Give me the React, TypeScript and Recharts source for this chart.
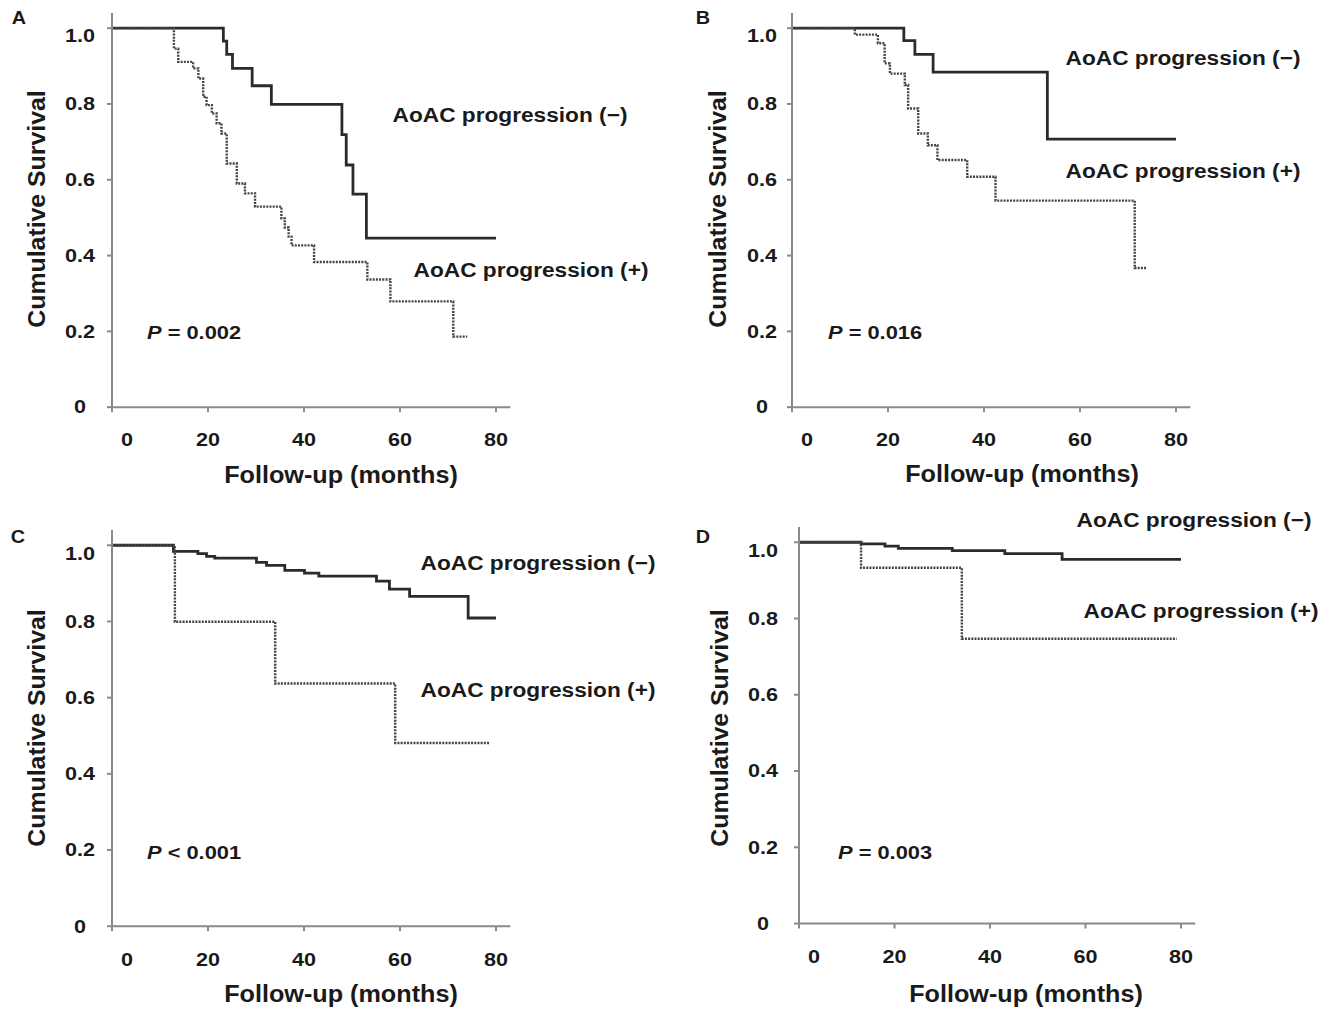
import { LineChart, Line, XAxis, YAxis } from "recharts";

type Pt = { t: number; s: number };

const monthTicks = [0, 20, 40, 60, 80];
const survivalTicks = [0, 0.2, 0.4, 0.6, 0.8, 1.0];

// panel A
const aNeg: Pt[] = [
  { t: 0, s: 1 }, { t: 23.2, s: 0.966 }, { t: 23.9, s: 0.931 }, { t: 25.1, s: 0.894 },
  { t: 29.2, s: 0.848 }, { t: 33.2, s: 0.799 }, { t: 47.9, s: 0.719 }, { t: 48.8, s: 0.639 },
  { t: 50.2, s: 0.562 }, { t: 53.0, s: 0.446 }, { t: 80, s: 0.446 },
];
const aPos: Pt[] = [
  { t: 0, s: 1 }, { t: 12.9, s: 0.946 }, { t: 13.8, s: 0.911 }, { t: 16.9, s: 0.894 },
  { t: 18.0, s: 0.867 }, { t: 19.0, s: 0.819 }, { t: 19.7, s: 0.797 }, { t: 20.8, s: 0.775 },
  { t: 21.8, s: 0.749 }, { t: 22.8, s: 0.722 }, { t: 23.9, s: 0.643 }, { t: 26.0, s: 0.59 },
  { t: 27.7, s: 0.564 }, { t: 29.8, s: 0.529 }, { t: 35.3, s: 0.498 }, { t: 36.0, s: 0.474 },
  { t: 36.8, s: 0.45 }, { t: 37.4, s: 0.427 }, { t: 42.1, s: 0.383 }, { t: 53.2, s: 0.337 },
  { t: 58.0, s: 0.279 }, { t: 71.1, s: 0.186 }, { t: 74.0, s: 0.186 },
];

// panel B
const bNeg: Pt[] = [
  { t: 0, s: 1 }, { t: 23.3, s: 0.967 }, { t: 25.6, s: 0.931 }, { t: 29.4, s: 0.884 },
  { t: 53.2, s: 0.707 }, { t: 80, s: 0.707 },
];
const bPos: Pt[] = [
  { t: 0, s: 1 }, { t: 13.1, s: 0.983 }, { t: 17.9, s: 0.96 }, { t: 19.3, s: 0.907 },
  { t: 20.4, s: 0.88 }, { t: 23.5, s: 0.85 }, { t: 24.2, s: 0.788 }, { t: 26.3, s: 0.722 },
  { t: 28.3, s: 0.691 }, { t: 30.3, s: 0.652 }, { t: 36.5, s: 0.608 }, { t: 42.4, s: 0.545 },
  { t: 71.4, s: 0.367 }, { t: 73.8, s: 0.367 },
];

// panel C
const cNeg: Pt[] = [
  { t: 0, s: 1 }, { t: 12.8, s: 0.984 }, { t: 17.9, s: 0.978 }, { t: 19.7, s: 0.971 },
  { t: 21.4, s: 0.966 }, { t: 30.1, s: 0.955 }, { t: 32.2, s: 0.947 }, { t: 36.0, s: 0.934 },
  { t: 40.1, s: 0.927 }, { t: 43.1, s: 0.919 }, { t: 55.1, s: 0.906 }, { t: 57.8, s: 0.885 },
  { t: 62.0, s: 0.866 }, { t: 74.2, s: 0.809 }, { t: 80, s: 0.809 },
];
const cPos: Pt[] = [
  { t: 0, s: 1 }, { t: 13.1, s: 0.799 }, { t: 34.0, s: 0.637 }, { t: 59.0, s: 0.481 },
  { t: 78.8, s: 0.481 },
];

// panel D
const dNeg: Pt[] = [
  { t: 0, s: 1 }, { t: 13.0, s: 0.996 }, { t: 18.0, s: 0.99 }, { t: 20.8, s: 0.984 },
  { t: 32.1, s: 0.978 }, { t: 43.1, s: 0.97 }, { t: 55.1, s: 0.955 }, { t: 80, s: 0.955 },
];
const dPos: Pt[] = [
  { t: 0, s: 1 }, { t: 13.0, s: 0.933 }, { t: 34.1, s: 0.747 }, { t: 79.1, s: 0.747 },
];

const panelLetters = ["A", "B", "C", "D"];
const pTexts = ["= 0.002", "= 0.016", "< 0.001", "= 0.003"];
const negLabel = "AoAC progression (\u2212)";
const posLabel = "AoAC progression (+)";
const xTitle = "Follow-up (months)";
const yTitle = "Cumulative Survival";

const X_MAX = 83;
const Y_MAX = 1.04;
const FONT = "'Liberation Sans', Arial, sans-serif";
const INK = "#1a1a1a";
const AXIS = "#8a8a8a";

const ML = 110;
const MT = 4;
const MR = 4;
const MB = 60;

type Geo = { x0: number; y0: number; pxMonth: number; pxUnit: number; labelDx: number };

const geos: Geo[] = [
  { x0: 112, y0: 407, pxMonth: 4.8, pxUnit: 379, labelDx: 32 },
  { x0: 792.3, y0: 407, pxMonth: 4.8, pxUnit: 379, labelDx: 30 },
  { x0: 112.3, y0: 926.7, pxMonth: 4.8, pxUnit: 381, labelDx: 32 },
  { x0: 799, y0: 924, pxMonth: 4.775, pxUnit: 381.3, labelDx: 36 },
];
const curves: [Pt[], Pt[]][] = [
  [aNeg, aPos],
  [bNeg, bPos],
  [cNeg, cPos],
  [dNeg, dPos],
];

function SText({ x, y, size, sx = 1, rotate = 0, anchor = "middle", children }: any) {
  return (
    <text
      transform={`translate(${x} ${y}) rotate(${rotate}) scale(${sx} 1)`}
      fontSize={size}
      textAnchor={anchor}
      dominantBaseline="central"
      fontFamily={FONT}
      fontWeight="bold"
      fill={INK}
    >
      {children}
    </text>
  );
}

function Panel({ g, neg, pos }: { g: Geo; neg: Pt[]; pos: Pt[] }) {
  const plotW = X_MAX * g.pxMonth;
  const plotH = Y_MAX * g.pxUnit;
  const bottom = MT + plotH;
  return (
    <div style={{ position: "absolute", left: g.x0 - ML, top: g.y0 - plotH - MT }}>
      <LineChart
        width={ML + plotW + MR}
        height={MT + plotH + MB}
        margin={{ top: MT, right: MR, bottom: 0, left: 0 }}
      >
        <XAxis
          type="number"
          dataKey="t"
          domain={[0, X_MAX]}
          ticks={monthTicks}
          height={MB}
          allowDataOverflow
          stroke={AXIS}
          strokeWidth={2}
          tickSize={5}
          tick={(p: any) => (
            <SText x={p.x + (p.payload.value === 0 ? 15 : 0)} y={bottom + 33} size={18} sx={1.2}>
              {p.payload.value}
            </SText>
          )}
        />
        <YAxis
          type="number"
          dataKey="s"
          domain={[0, Y_MAX]}
          ticks={survivalTicks}
          width={ML}
          allowDataOverflow
          stroke={AXIS}
          strokeWidth={2}
          tickSize={5}
          tick={(p: any) => (
            <SText x={ML - g.labelDx} y={p.y + (p.payload.value === 1 ? 8 : 0)} size={18} sx={1.2}>
              {p.payload.value === 0 ? "0" : Number(p.payload.value).toFixed(1)}
            </SText>
          )}
        />
        <Line
          data={neg}
          dataKey="s"
          type="stepAfter"
          stroke="#2b2b2b"
          strokeWidth={2.8}
          dot={false}
          isAnimationActive={false}
        />
        <Line
          data={pos}
          dataKey="s"
          type="stepAfter"
          stroke="#444"
          strokeWidth={2.4}
          strokeDasharray="2 1.2"
          dot={false}
          isAnimationActive={false}
        />
      </LineChart>
    </div>
  );
}

// page positions of the free text, per panel
const letterPos = [[19, 18], [703, 18], [18, 537], [703, 537]];
const yTitlePos = [[37, 209], [718, 209], [37, 728], [720, 728]];
const xTitlePos = [[341, 475], [1022, 474], [341, 994], [1026, 994]];
const negPos = [[510, 115], [1183, 58], [538, 563], [1194, 520]];
const posPos = [[531, 270], [1183, 171], [538, 690], [1201, 611]];
const pPos = [[147, 332], [828, 332], [147, 852], [838, 852]];

export default function App() {
  return (
    <div style={{ position: "absolute", left: 0, top: 0, width: 1331, height: 1009, background: "#fff" }}>
      {geos.map((g, i) => (
        <Panel key={i} g={g} neg={curves[i][0]} pos={curves[i][1]} />
      ))}
      <svg
        width={1331}
        height={1009}
        style={{ position: "absolute", left: 0, top: 0, pointerEvents: "none" }}
      >
        {panelLetters.map((l, i) => (
          <g key={l}>
            <SText x={letterPos[i][0]} y={letterPos[i][1]} size={18} sx={1.1}>{l}</SText>
            <SText x={yTitlePos[i][0]} y={yTitlePos[i][1]} size={23} sx={1.08} rotate={-90}>{yTitle}</SText>
            <SText x={xTitlePos[i][0]} y={xTitlePos[i][1]} size={24} sx={1.05}>{xTitle}</SText>
            <SText x={negPos[i][0]} y={negPos[i][1]} size={21} sx={1.08}>{negLabel}</SText>
            <SText x={posPos[i][0]} y={posPos[i][1]} size={21} sx={1.08}>{posLabel}</SText>
            <SText x={pPos[i][0]} y={pPos[i][1]} size={19} sx={1.15} anchor="start">
              <tspan fontStyle="italic">P</tspan>
              {" " + pTexts[i]}
            </SText>
          </g>
        ))}
      </svg>
    </div>
  );
}
